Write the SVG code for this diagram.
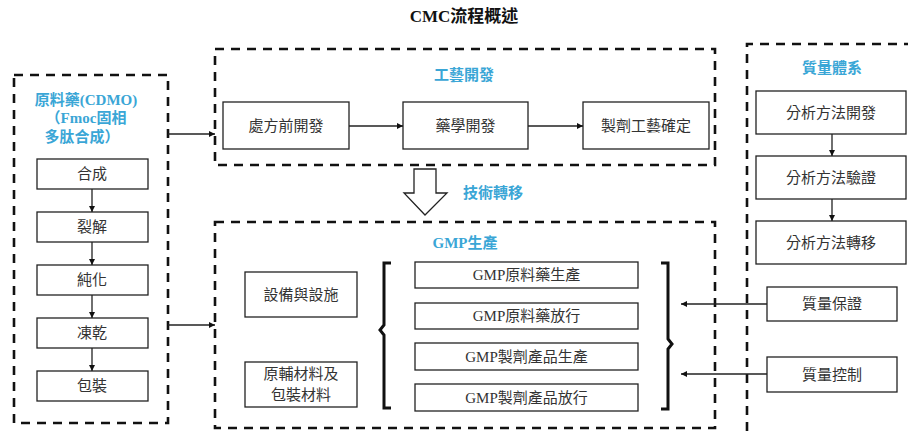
<svg xmlns="http://www.w3.org/2000/svg" width="908" height="431" viewBox="0 0 908 431">
<style>
.dash{fill:none;stroke:#111;stroke-width:2.6;stroke-dasharray:9 7}
.box{fill:#fff;stroke:#222;stroke-width:1.3}
.t{font-family:"Liberation Serif","Noto Sans CJK TC",serif;font-size:15px;fill:#333;text-anchor:middle;dominant-baseline:central}
.lb{font-family:"Liberation Serif","Noto Sans CJK TC",serif;font-size:15px;font-weight:bold;fill:#3aa6d6;text-anchor:middle;dominant-baseline:central}
.ttl{font-family:"Liberation Serif","Noto Sans CJK TC",serif;font-size:17px;font-weight:bold;fill:#111;text-anchor:middle;dominant-baseline:central}
.ln{fill:none;stroke:#222;stroke-width:1.3}
.br{fill:none;stroke:#111;stroke-width:3;stroke-linejoin:miter}
</style>
<defs>
<marker id="ah" viewBox="0 0 8 8" refX="8" refY="4" markerWidth="6" markerHeight="6" markerUnits="userSpaceOnUse" orient="auto">
<path d="M0,0 L8,4 L0,8 Z" fill="#111"/>
</marker>
</defs>
<rect width="908" height="431" fill="#fff"/>
<text id="title" class="ttl" x="464" y="16">CMC流程概述</text>

<g id="api-group">
<rect class="dash" x="14" y="75" width="154" height="348"/>
<text class="lb" x="86" y="100">原料藥(CDMO)</text>
<text class="lb" x="86" y="118">（Fmoc固相</text>
<text class="lb" x="82" y="137">多肽合成）</text>
</g>
<g id="n-synth"><rect class="box" x="37" y="159" width="111" height="30"/><text class="t" x="92" y="174">合成</text></g>
<g id="n-cleave"><rect class="box" x="37" y="212" width="111" height="30"/><text class="t" x="92" y="227">裂解</text></g>
<g id="n-purify"><rect class="box" x="37" y="265" width="111" height="30"/><text class="t" x="92" y="280">純化</text></g>
<g id="n-lyo"><rect class="box" x="37" y="318" width="111" height="30"/><text class="t" x="92" y="333">凍乾</text></g>
<g id="n-pack"><rect class="box" x="37" y="371" width="111" height="30"/><text class="t" x="92" y="386">包裝</text></g>

<g id="process-group">
<rect class="dash" x="215" y="49" width="500" height="116"/>
<text class="lb" x="464" y="75">工藝開發</text>
</g>
<g id="n-preform"><rect class="box" x="223" y="102" width="126" height="47"/><text class="t" x="286" y="125.5">處方前開發</text></g>
<g id="n-pharm"><rect class="box" x="403" y="102" width="125" height="47"/><text class="t" x="465.5" y="125.5">藥學開發</text></g>
<g id="n-formul"><rect class="box" x="583" y="102" width="126" height="47"/><text class="t" x="646" y="125.5">製劑工藝確定</text></g>

<g id="transfer">
<polygon points="414,169 436,169 436,193 447,193 425,215 404,193 414,193" fill="#fff" stroke="#222" stroke-width="1.3"/>
<text class="lb" x="493" y="193">技術轉移</text>
</g>

<g id="gmp-group">
<rect class="dash" x="215" y="222" width="500" height="206"/>
<text class="lb" x="465" y="243">GMP生產</text>
<path class="br" d="M391,263 H384 V325 L380,330 L384,335 V408 H391"/>
<path class="br" d="M661,263 H668 V339 L672,344 L668,349 V409 H661"/>
</g>
<g id="n-facility"><rect class="box" x="245" y="272" width="112" height="45"/><text class="t" x="301" y="294.5">設備與設施</text></g>
<g id="n-material"><rect class="box" x="245" y="362" width="112" height="45"/><text class="t" x="301" y="374">原輔材料及</text><text class="t" x="301" y="395">包裝材料</text></g>
<g id="n-gmp1"><rect class="box" x="415" y="262" width="223" height="26"/><text class="t" x="526.5" y="275">GMP原料藥生產</text></g>
<g id="n-gmp2"><rect class="box" x="415" y="303" width="223" height="26"/><text class="t" x="526.5" y="316">GMP原料藥放行</text></g>
<g id="n-gmp3"><rect class="box" x="415" y="343" width="223" height="27"/><text class="t" x="526.5" y="356.5">GMP製劑產品生產</text></g>
<g id="n-gmp4"><rect class="box" x="415" y="384" width="223" height="27"/><text class="t" x="526.5" y="397.5">GMP製劑產品放行</text></g>

<g id="quality-group">
<path class="dash" d="M747,431 V44 H910"/>
<text class="lb" x="832" y="68">質量體系</text>
</g>
<g id="n-adev"><rect class="box" x="756" y="91" width="150" height="43"/><text class="t" x="831" y="112.5">分析方法開發</text></g>
<g id="n-aval"><rect class="box" x="756" y="156" width="150" height="43"/><text class="t" x="831" y="177.5">分析方法驗證</text></g>
<g id="n-atrans"><rect class="box" x="756" y="221" width="150" height="43"/><text class="t" x="831" y="242.5">分析方法轉移</text></g>
<g id="n-qa"><rect class="box" x="767" y="287" width="130" height="34"/><text class="t" x="832" y="304">質量保證</text></g>
<g id="n-qc"><rect class="box" x="767" y="357" width="130" height="35"/><text class="t" x="832" y="374.5">質量控制</text></g>

<g id="connectors">
<line class="ln" x1="92" y1="189" x2="92" y2="212" marker-end="url(#ah)"/>
<line class="ln" x1="92" y1="242" x2="92" y2="265" marker-end="url(#ah)"/>
<line class="ln" x1="92" y1="295" x2="92" y2="318" marker-end="url(#ah)"/>
<line class="ln" x1="92" y1="348" x2="92" y2="371" marker-end="url(#ah)"/>
<line class="ln" x1="168" y1="134" x2="215" y2="134" marker-end="url(#ah)"/>
<line class="ln" x1="168" y1="325" x2="215" y2="325" marker-end="url(#ah)"/>
<line class="ln" x1="349" y1="126" x2="403" y2="126" marker-end="url(#ah)"/>
<line class="ln" x1="528" y1="126" x2="583" y2="126" marker-end="url(#ah)"/>
<line class="ln" x1="832" y1="134" x2="832" y2="156" marker-end="url(#ah)"/>
<line class="ln" x1="832" y1="199" x2="832" y2="221" marker-end="url(#ah)"/>
<line class="ln" x1="767" y1="304" x2="681" y2="304" marker-end="url(#ah)"/>
<line class="ln" x1="767" y1="374" x2="681" y2="374" marker-end="url(#ah)"/>
</g>
</svg>
